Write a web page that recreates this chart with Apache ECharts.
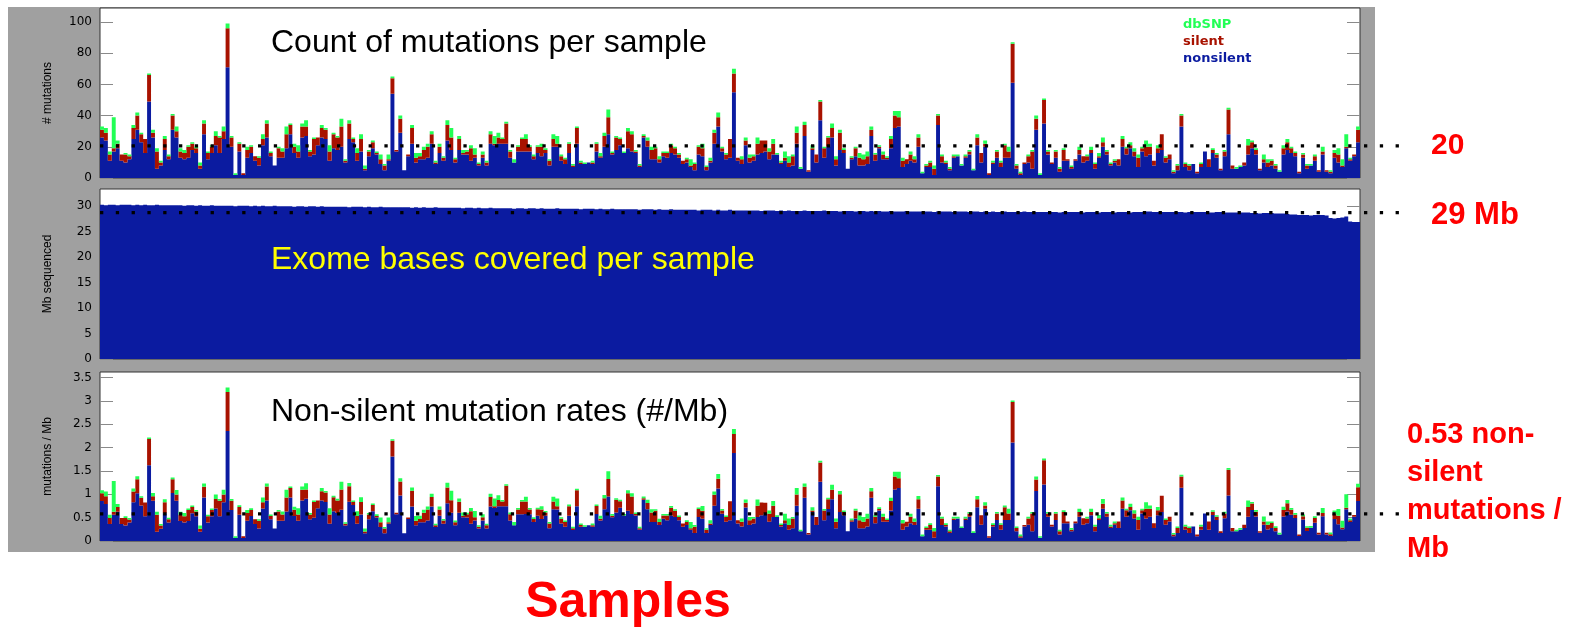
<!DOCTYPE html>
<html><head><meta charset="utf-8">
<script src="https://cdn.jsdelivr.net/npm/echarts@6/dist/echarts.min.js"></script>
<style>html,body{margin:0;padding:0;background:#fff}#c{width:1587px;height:628px}</style>
</head><body><div id="c"></div>
<script>
// ---- data (one value per sample) ----
const nonsilent = [
26,24,11,17,19,11,10,12,25,31,23,16,49,26,6,8,18,12,31,26,
13,12,13,18,16,6,28,12,16,21,16,25,71,20,2,17,2,13,16,11,
8,21,26,14,8,13,13,19,28,16,13,26,27,14,15,21,26,25,11,19,
18,20,10,25,23,11,17,5,14,19,15,9,5,11,54,17,29,5,14,22,
10,12,12,13,22,9,16,11,24,18,10,18,15,15,11,13,8,13,8,22,
21,22,22,22,13,10,17,17,17,17,12,16,14,16,8,20,20,11,9,16,
7,22,9,9,10,9,17,13,20,28,15,18,21,16,19,17,16,7,26,20,
12,12,10,14,13,16,15,13,9,10,7,5,15,14,5,10,22,33,17,12,
13,55,11,9,21,10,11,15,16,17,12,15,15,9,11,7,8,22,6,27,
4,18,10,37,13,20,26,8,18,16,6,12,14,8,8,9,27,11,19,12,
12,19,32,33,7,9,11,10,20,3,7,7,2,34,10,9,5,13,14,8,
13,15,5,21,10,20,2,9,13,7,13,13,61,6,2,9,10,6,31,2,
35,15,9,13,4,11,11,6,11,15,10,11,16,6,13,20,15,8,10,8,
20,15,19,14,7,17,14,15,8,16,18,10,12,3,5,33,7,5,9,3,
7,17,7,16,13,5,14,28,6,6,7,8,15,19,15,5,10,7,8,6,
4,15,18,16,14,3,13,6,8,11,4,15,4,3,13,10,7,19,11,14,23];
const silent = [
5,5,4,2,3,4,5,2,7,9,5,9,17,3,11,2,7,2,9,4,
4,4,7,4,3,2,7,4,4,6,10,5,25,6,0,5,1,5,4,3,
5,4,9,2,0,6,4,9,6,4,4,7,6,3,10,5,6,6,6,9,
8,13,1,10,2,5,8,1,3,4,1,3,3,1,10,1,9,0,1,10,
3,2,6,7,6,1,4,2,10,8,2,7,1,2,8,2,1,2,2,6,
1,4,3,13,4,0,3,8,8,3,2,4,6,2,3,5,2,3,3,6,
1,10,1,0,0,1,5,1,7,11,1,8,4,0,11,11,1,1,1,4,
6,7,2,2,3,5,4,2,2,2,1,4,5,5,2,1,7,6,2,3,
12,12,2,3,3,3,3,7,8,7,5,7,0,1,2,3,6,7,0,7,
1,1,5,12,6,6,6,4,11,2,0,1,5,5,4,5,4,4,1,3,
1,6,8,6,4,3,4,2,6,0,1,3,4,6,4,1,1,1,0,0,
1,2,0,5,6,2,1,1,4,3,8,4,25,2,1,1,4,11,7,0,
15,2,1,4,2,7,1,1,1,3,4,3,2,3,1,3,2,1,1,4,
5,4,2,3,6,2,6,5,3,3,10,3,3,1,3,7,2,3,0,1,
2,0,5,2,2,1,3,16,2,0,0,2,6,4,3,1,2,3,3,2,
0,4,5,3,2,1,2,2,0,3,1,2,1,1,3,5,1,1,1,1,8];
const dbsnp = [
2,3,2,20,2,0,1,1,2,2,1,0,1,2,2,1,2,1,1,3,
2,2,1,1,1,2,2,1,1,3,1,3,3,1,1,1,0,2,1,0,
1,3,2,1,0,1,2,5,1,2,4,2,4,1,1,0,2,1,4,1,
1,5,1,2,1,3,3,2,1,1,1,3,1,3,1,0,2,0,0,2,
3,2,2,2,2,1,2,1,3,6,1,2,2,1,2,4,1,2,1,2,
5,3,1,1,1,2,1,1,3,1,1,1,2,1,1,3,5,1,1,1,
1,1,1,1,0,1,1,2,2,5,1,1,1,1,2,2,1,1,1,2,
2,1,2,1,1,1,1,1,0,1,4,1,1,3,1,2,2,3,1,1,
0,3,0,2,2,2,1,4,0,0,2,3,1,1,4,4,1,4,1,2,
0,2,0,1,1,1,3,2,2,1,0,1,1,3,3,3,2,1,1,2,
1,2,3,4,2,0,2,2,2,1,1,1,2,1,1,1,1,1,1,1,
1,1,1,2,0,2,0,1,1,1,1,3,1,1,1,0,1,1,2,1,
1,1,0,1,1,1,0,1,0,2,0,1,2,1,2,3,1,1,1,0,
2,1,2,2,2,1,4,2,0,2,0,1,0,1,1,1,1,1,0,0,
1,0,0,1,1,0,1,1,0,1,1,0,4,1,1,0,3,2,1,1,
1,2,2,1,1,0,1,1,1,1,0,3,0,1,2,4,4,8,1,0,2];
const mbCovered = [
30.3,30.2,30.3,30.3,30.2,30.3,30.3,30.3,30.2,30.3,30.2,30.3,30.2,30.2,30.3,30.2,30.2,30.2,30.2,30.2,
30.2,30.1,30.2,30.2,30.1,30.2,30.1,30.1,30.2,30.1,30.1,30.1,30.1,30.1,30.0,30.1,30.1,30.1,30.0,30.1,
30.0,30.1,30.0,30.0,30.1,30.0,30.0,30.0,30.0,29.9,30.0,30.0,29.9,30.0,30.0,29.9,30.0,29.9,29.9,29.9,
29.9,29.9,29.9,29.8,29.9,29.9,29.9,29.8,29.9,29.8,29.8,29.9,29.8,29.8,29.8,29.8,29.8,29.8,29.8,29.7,
29.8,29.7,29.8,29.7,29.7,29.8,29.7,29.7,29.7,29.7,29.7,29.7,29.6,29.7,29.7,29.6,29.7,29.6,29.6,29.7,
29.6,29.6,29.6,29.6,29.6,29.5,29.6,29.6,29.5,29.6,29.6,29.5,29.6,29.5,29.5,29.5,29.6,29.5,29.5,29.5,
29.5,29.5,29.4,29.5,29.5,29.5,29.4,29.5,29.4,29.4,29.5,29.4,29.4,29.4,29.4,29.4,29.4,29.3,29.4,29.4,
29.4,29.3,29.4,29.3,29.3,29.4,29.3,29.3,29.3,29.3,29.3,29.3,29.2,29.3,29.3,29.3,29.2,29.3,29.2,29.2,
29.3,29.2,29.2,29.2,29.2,29.2,29.2,29.2,29.1,29.2,29.2,29.2,29.1,29.2,29.1,29.2,29.1,29.1,29.1,29.2,
29.1,29.1,29.1,29.1,29.2,29.1,29.1,29.1,29.0,29.1,29.1,29.1,29.0,29.1,29.1,29.0,29.1,29.0,29.1,29.0,
29.0,29.1,29.0,29.0,29.0,29.1,29.0,29.0,29.0,29.0,29.0,29.0,28.9,29.0,29.0,29.0,29.0,28.9,29.0,29.0,
29.0,28.9,29.0,29.0,28.9,29.0,28.9,29.0,28.9,28.9,29.0,28.9,28.9,28.9,28.9,29.0,28.9,28.9,28.9,28.9,
28.9,28.9,28.9,28.9,28.8,28.9,28.9,28.9,28.9,28.9,28.8,28.9,28.9,28.9,28.8,28.9,28.9,28.9,28.8,28.9,
28.9,28.9,28.8,28.9,28.9,28.9,29.0,29.0,28.9,28.9,28.9,28.9,28.9,28.9,28.9,28.9,28.8,28.9,28.9,28.9,
28.9,28.9,28.8,28.8,28.9,28.9,28.8,28.8,28.8,28.8,28.8,28.8,28.8,28.7,28.7,28.6,28.7,28.7,28.7,28.6,
28.6,28.6,28.5,28.4,28.4,28.3,28.3,28.3,28.2,28.3,28.3,28.3,28.2,27.7,27.6,27.7,27.8,28.0,27.0,26.9,26.9];

const countTicks = [0, 20, 40, 60, 80, 100];
const mbTicks = [0, 5, 10, 15, 20, 25, 30];
const rateTicks = [0, 0.5, 1, 1.5, 2, 2.5, 3, 3.5];
const refCount = 20.6;   // dotted reference line, top panel
const refMb = 28.75;     // dotted reference line, middle panel
const refRate = 0.58;    // dotted reference line, bottom panel
const samples = nonsilent.map((_, i) => 'S' + (i + 1));

// per-Mb rates: counts divided by the bases covered for that sample
const rateNon = nonsilent.map((v, i) => v / mbCovered[i]);
const rateSil = silent.map((v, i) => v / mbCovered[i]);
const rateDb = dbsnp.map((v, i) => v / mbCovered[i]);

const BLUE = '#0b1ba0', RED = '#a81200', GREEN = '#22ff55';

const chart = echarts.init(document.getElementById('c'));

const gridBase = {left: 100, width: 1260, show: true, backgroundColor: '#fff', borderColor: '#333', borderWidth: 1};
const grids = [
  Object.assign({top: 8, height: 170}, gridBase),
  Object.assign({top: 189, height: 170}, gridBase),
  Object.assign({top: 372, height: 169}, gridBase)
];
const xAxes = [0, 1, 2].map(g => ({
  type: 'category', gridIndex: g, data: samples, boundaryGap: true,
  axisLine: {show: false}, axisTick: {show: false}, axisLabel: {show: false}, splitLine: {show: false}
}));
function leftAxis(g, max, ticks, name) {
  return {
    type: 'value', gridIndex: g, min: 0, max: max, position: 'left',
    name: name, nameLocation: 'middle', nameGap: 46, nameRotate: 90,
    nameTextStyle: {fontFamily: '"Liberation Sans Narrow", "Liberation Sans", Arial', fontSize: 12, color: '#000'},
    axisLine: {show: false},
    axisTick: {show: true, inside: true, length: 13, lineStyle: {color: '#8a8a8a'}, customValues: ticks},
    axisLabel: {customValues: ticks, color: '#000', fontFamily: '"DejaVu Sans"', fontSize: 12, margin: 8},
    splitLine: {show: false}
  };
}
function rightAxis(g, max, ticks) {
  return {
    type: 'value', gridIndex: g, min: 0, max: max, position: 'right',
    axisLine: {show: false},
    axisTick: {show: true, inside: true, length: 13, lineStyle: {color: '#8a8a8a'}, customValues: ticks},
    axisLabel: {show: false}, splitLine: {show: false}
  };
}
const yAxes = [
  leftAxis(0, 109, countTicks, '# mutations'), rightAxis(0, 109, countTicks),
  leftAxis(1, 33.4, mbTicks, 'Mb sequenced'), rightAxis(1, 33.4, mbTicks),
  leftAxis(2, 3.62, rateTicks, 'mutations / Mb'), rightAxis(2, 3.62, rateTicks)
];
function bar(name, data, color, xi, yi, stack) {
  return {
    type: 'bar', name: name, data: data, xAxisIndex: xi, yAxisIndex: yi, stack: stack,
    barCategoryGap: '0%', barGap: '0%', large: true, largeThreshold: 50,
    itemStyle: {color: color}, silent: true
  };
}
chart.setOption({
  animation: false,
  grid: grids,
  xAxis: xAxes,
  yAxis: yAxes,
  legend: {
    left: 1178, top: 18, orient: 'vertical', padding: 0, icon: 'none',
    itemWidth: 0, itemHeight: 13, itemGap: 4.3, selectedMode: false,
    textStyle: {fontFamily: '"DejaVu Sans"', fontWeight: 'bold', fontSize: 13, lineHeight: 13},
    data: [
      {name: 'dbSNP', textStyle: {color: GREEN}},
      {name: 'silent', textStyle: {color: RED}},
      {name: 'nonsilent', textStyle: {color: BLUE}}
    ]
  },
  series: [
    bar('nonsilent', nonsilent, BLUE, 0, 0, 'count'),
    bar('silent', silent, RED, 0, 0, 'count'),
    bar('dbSNP', dbsnp, GREEN, 0, 0, 'count'),
    bar('Mb sequenced', mbCovered, BLUE, 1, 2, 'mb'),
    bar('nonsilent', rateNon, BLUE, 2, 4, 'rate'),
    bar('silent', rateSil, RED, 2, 4, 'rate'),
    bar('dbSNP', rateDb, GREEN, 2, 4, 'rate')
  ]
});

// reference lines positioned through the axes
const yC = chart.convertToPixel({yAxisIndex: 0}, refCount);
const yM = chart.convertToPixel({yAxisIndex: 2}, refMb);
const yR = chart.convertToPixel({yAxisIndex: 4}, refRate);
function dots(y) {
  return {type: 'line', shape: {x1: 100, y1: y, x2: 1400, y2: y}, z: 50, silent: true,
    style: {stroke: '#000', lineWidth: 3.2, lineDash: [3.3, 12.5]}};
}
function txt(x, y, text, font, fill, extra) {
  return {type: 'text', x: x, y: y, z: 40, silent: true,
    style: Object.assign({text: text, font: font, fill: fill, align: 'left', verticalAlign: 'middle'}, extra || {})};
}
const TF = '32px "Liberation Sans", Arial';
chart.setOption({
  graphic: {elements: [
    {type: 'rect', shape: {x: 8, y: 7, width: 1367, height: 545}, style: {fill: '#a0a0a0'}, z: -5, silent: true},
    txt(271, 43, 'Count of mutations per sample', TF, '#000'),
    txt(271, 260, 'Exome bases covered per sample', TF, '#ffff00'),
    txt(271, 412, 'Non-silent mutation rates (#/Mb)', TF, '#000'),
    txt(1431, 146, '20', 'bold 30px "Liberation Sans", Arial', '#ff0000'),
    txt(1431, 215, '29 Mb', 'bold 31px "Liberation Sans", Arial', '#ff0000'),
    txt(1407, 416, '0.53 non-\nsilent\nmutations /\nMb', 'bold 29px "Liberation Sans", Arial', '#ff0000',
        {verticalAlign: 'top', lineHeight: 38}),
    txt(628, 603, 'Samples', 'bold 50px "Liberation Sans", Arial', '#ff0000', {align: 'center'}),
    dots(yC), dots(yM), dots(yR)
  ]}
});
</script>
</body></html>
